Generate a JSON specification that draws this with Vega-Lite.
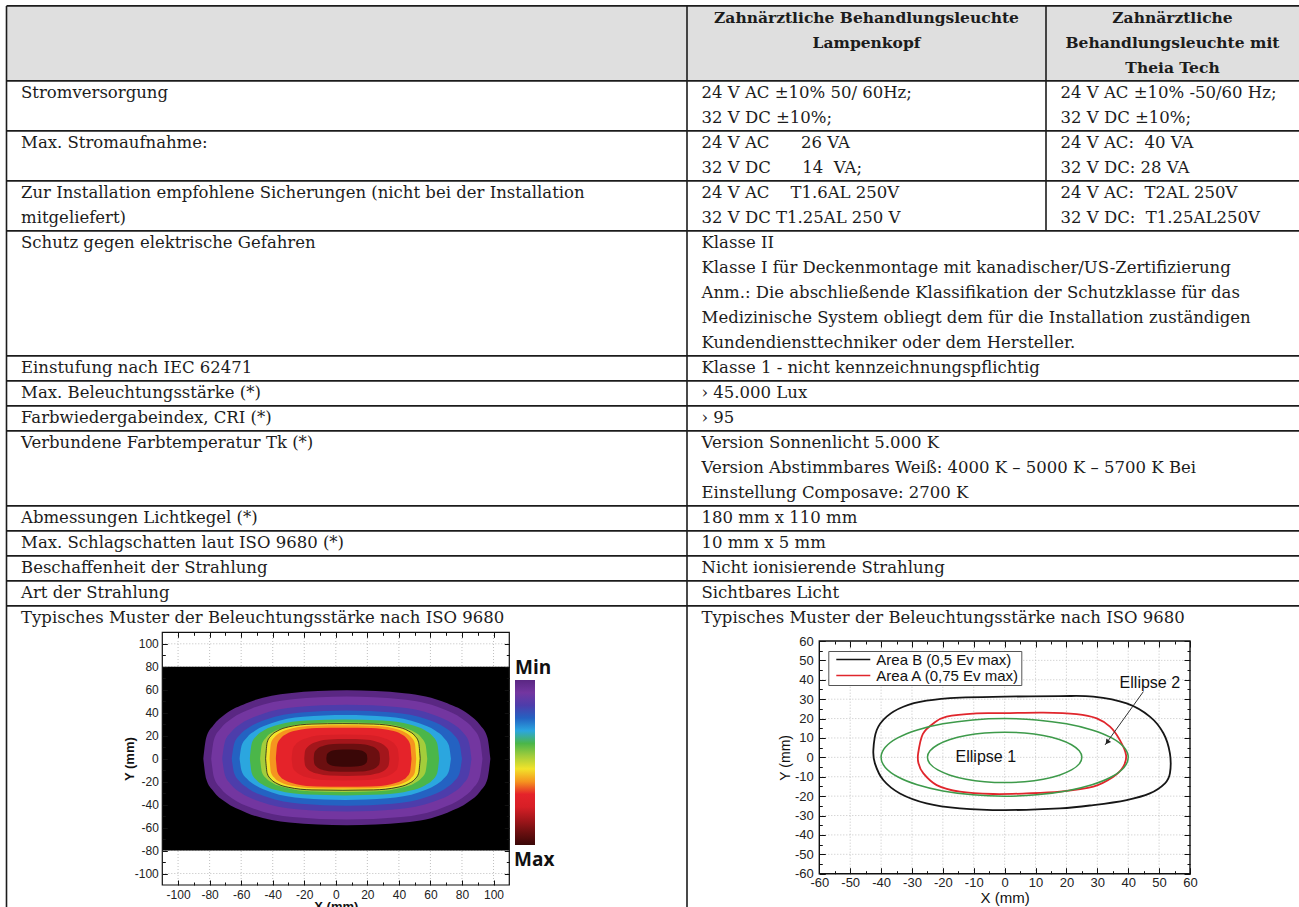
{
"$schema": "https://vega.github.io/schema/vega-lite/v6.json",
"width": 1299, "height": 907,
"autosize": {"type": "none"},
"padding": 0,
"background": "#ffffff",
"config": {"view": {"stroke": null}},
"datasets": {
"one": [{"lab": "Max"}],
"rows": [
{"row":"Kopf","top":-0.5,"bottom":2.5},{"row":"Stromversorgung","top":2.5},{"row":"Max. Stromaufnahme","top":4.5},{"row":"Sicherungen","top":6.5},{"row":"Schutz","top":8.5},{"row":"Einstufung","top":13.5},{"row":"Beleuchtungsstärke","top":14.5},{"row":"CRI","top":15.5},{"row":"Farbtemperatur","top":16.5},{"row":"Lichtkegel","top":19.5},{"row":"Schlagschatten","top":20.5},{"row":"Beschaffenheit","top":21.5},{"row":"Art","top":22.5},{"row":"Muster","top":23.5}
],
"vlines": [{"c":0,"from":-0.5,"to":40},{"c":1,"from":-0.5,"to":40},{"c":2,"from":-0.5,"to":8.5}],
"head": [
{"col":1.5,"slot":0,"text":"Zahnärztliche Behandlungsleuchte"},
{"col":1.5,"slot":1,"text":"Lampenkopf"},
{"col":2.5,"slot":0,"text":"Zahnärztliche"},
{"col":2.5,"slot":1,"text":"Behandlungsleuchte mit"},
{"col":2.5,"slot":2,"text":"Theia Tech"}
],
"cells": [
{"col":0,"slot":3,"text":"Stromversorgung"},
{"col":0,"slot":5,"text":"Max. Stromaufnahme:"},
{"col":0,"slot":7,"text":"Zur Installation empfohlene Sicherungen (nicht bei der Installation"},
{"col":0,"slot":8,"text":"mitgeliefert)"},
{"col":0,"slot":9,"text":"Schutz gegen elektrische Gefahren"},
{"col":0,"slot":14,"text":"Einstufung nach IEC 62471"},
{"col":0,"slot":15,"text":"Max. Beleuchtungsstärke (*)"},
{"col":0,"slot":16,"text":"Farbwiedergabeindex, CRI (*)"},
{"col":0,"slot":17,"text":"Verbundene Farbtemperatur Tk (*)"},
{"col":0,"slot":20,"text":"Abmessungen Lichtkegel (*)"},
{"col":0,"slot":21,"text":"Max. Schlagschatten laut ISO 9680 (*)"},
{"col":0,"slot":22,"text":"Beschaffenheit der Strahlung"},
{"col":0,"slot":23,"text":"Art der Strahlung"},
{"col":0,"slot":24,"text":"Typisches Muster der Beleuchtungsstärke nach ISO 9680"},
{"col":1,"slot":3,"text":"24 V AC ±10% 50/ 60Hz;"},
{"col":1,"slot":4,"text":"32 V DC ±10%;"},
{"col":1,"slot":5,"text":"24 V AC\u00a0\u00a0\u00a0\u00a0\u00a0 26 VA"},
{"col":1,"slot":6,"text":"32 V DC\u00a0\u00a0\u00a0\u00a0\u00a0 14\u00a0 VA;"},
{"col":1,"slot":7,"text":"24 V AC\u00a0\u00a0\u00a0 T1.6AL 250V"},
{"col":1,"slot":8,"text":"32 V DC T1.25AL 250 V"},
{"col":1,"slot":9,"text":"Klasse II"},
{"col":1,"slot":10,"text":"Klasse I für Deckenmontage mit kanadischer/US-Zertifizierung"},
{"col":1,"slot":11,"text":"Anm.: Die abschließende Klassifikation der Schutzklasse für das"},
{"col":1,"slot":12,"text":"Medizinische System obliegt dem für die Installation zuständigen"},
{"col":1,"slot":13,"text":"Kundendiensttechniker oder dem Hersteller."},
{"col":1,"slot":14,"text":"Klasse 1 - nicht kennzeichnungspflichtig"},
{"col":1,"slot":15,"text":"› 45.000 Lux"},
{"col":1,"slot":16,"text":"› 95"},
{"col":1,"slot":17,"text":"Version Sonnenlicht 5.000 K"},
{"col":1,"slot":18,"text":"Version Abstimmbares Weiß: 4000 K – 5000 K – 5700 K Bei"},
{"col":1,"slot":19,"text":"Einstellung Composave: 2700 K"},
{"col":1,"slot":20,"text":"180 mm x 110 mm"},
{"col":1,"slot":21,"text":"10 mm x 5 mm"},
{"col":1,"slot":22,"text":"Nicht ionisierende Strahlung"},
{"col":1,"slot":23,"text":"Sichtbares Licht"},
{"col":1,"slot":24,"text":"Typisches Muster der Beleuchtungsstärke nach ISO 9680"},
{"col":2,"slot":3,"text":"24 V AC ±10% -50/60 Hz;"},
{"col":2,"slot":4,"text":"32 V DC ±10%;"},
{"col":2,"slot":5,"text":"24 V AC:\u00a0 40 VA"},
{"col":2,"slot":6,"text":"32 V DC: 28 VA"},
{"col":2,"slot":7,"text":"24 V AC:\u00a0 T2AL 250V"},
{"col":2,"slot":8,"text":"32 V DC:\u00a0 T1.25AL250V"}
],
"gridL": [{"g":-100},{"g":-80},{"g":-60},{"g":-40},{"g":-20},{"g":0},{"g":20},{"g":40},{"g":60},{"g":80},{"g":100}],
"gridR": [{"g":-50},{"g":-40},{"g":-30},{"g":-20},{"g":-10},{"g":0},{"g":10},{"g":20},{"g":30},{"g":40},{"g":50}],
"heat": [
{"lv":1,"x":-84,"t":0,"b":0},{"lv":1,"x":-82.2,"t":17.9,"b":-17.4},{"lv":1,"x":-77.6,"t":29,"b":-28.3},{"lv":1,"x":-70.4,"t":38.4,"b":-37.4},{"lv":1,"x":-56.7,"t":48.2,"b":-47},{"lv":1,"x":-29.4,"t":57,"b":-55.6},{"lv":1,"x":7,"t":59.5,"b":-58},{"lv":1,"x":43.4,"t":57,"b":-55.6},{"lv":1,"x":70.7,"t":48.2,"b":-47},{"lv":1,"x":84.4,"t":38.4,"b":-37.4},{"lv":1,"x":91.6,"t":29,"b":-28.3},{"lv":1,"x":96.2,"t":17.9,"b":-17.4},{"lv":1,"x":98,"t":0,"b":0},
{"lv":2,"x":-79,"t":0,"b":0},{"lv":2,"x":-77.3,"t":16.2,"b":-15.9},{"lv":2,"x":-73,"t":26.3,"b":-25.8},{"lv":2,"x":-66.1,"t":34.8,"b":-34.2},{"lv":2,"x":-53.2,"t":43.7,"b":-42.9},{"lv":2,"x":-27.4,"t":51.7,"b":-50.8},{"lv":2,"x":7,"t":54,"b":-53},{"lv":2,"x":41.4,"t":51.7,"b":-50.8},{"lv":2,"x":67.2,"t":43.7,"b":-42.9},{"lv":2,"x":80.1,"t":34.8,"b":-34.2},{"lv":2,"x":87,"t":26.3,"b":-25.8},{"lv":2,"x":91.3,"t":16.2,"b":-15.9},{"lv":2,"x":93,"t":0,"b":0},
{"lv":3,"x":-72,"t":0,"b":0},{"lv":3,"x":-70.4,"t":14.1,"b":-13.8},{"lv":3,"x":-66.5,"t":22.9,"b":-22.4},{"lv":3,"x":-60.2,"t":30.3,"b":-29.7},{"lv":3,"x":-48.3,"t":38.1,"b":-37.3},{"lv":3,"x":-24.6,"t":45,"b":-44.1},{"lv":3,"x":7,"t":47,"b":-46},{"lv":3,"x":38.6,"t":45,"b":-44.1},{"lv":3,"x":62.3,"t":38.1,"b":-37.3},{"lv":3,"x":74.2,"t":30.3,"b":-29.7},{"lv":3,"x":80.5,"t":22.9,"b":-22.4},{"lv":3,"x":84.4,"t":14.1,"b":-13.8},{"lv":3,"x":86,"t":0,"b":0},
{"lv":4,"x":-66,"t":0,"b":0},{"lv":4,"x":-64.5,"t":12.6,"b":-12.3},{"lv":4,"x":-60.9,"t":20.5,"b":-20},{"lv":4,"x":-55.1,"t":27.1,"b":-26.4},{"lv":4,"x":-44.1,"t":34,"b":-33.2},{"lv":4,"x":-22.2,"t":40.2,"b":-39.3},{"lv":4,"x":7,"t":42,"b":-41},{"lv":4,"x":36.2,"t":40.2,"b":-39.3},{"lv":4,"x":58.1,"t":34,"b":-33.2},{"lv":4,"x":69.1,"t":27.1,"b":-26.4},{"lv":4,"x":74.9,"t":20.5,"b":-20},{"lv":4,"x":78.5,"t":12.6,"b":-12.3},{"lv":4,"x":80,"t":0,"b":0},
{"lv":5,"x":-61,"t":0,"b":0},{"lv":5,"x":-59.7,"t":11.4,"b":-10.8},{"lv":5,"x":-56.3,"t":18.5,"b":-17.6},{"lv":5,"x":-51,"t":24.5,"b":-23.2},{"lv":5,"x":-40.9,"t":30.8,"b":-29.2},{"lv":5,"x":-20.8,"t":36.4,"b":-34.5},{"lv":5,"x":6,"t":38,"b":-36},{"lv":5,"x":32.8,"t":36.4,"b":-34.5},{"lv":5,"x":52.9,"t":30.8,"b":-29.2},{"lv":5,"x":63,"t":24.5,"b":-23.2},{"lv":5,"x":68.3,"t":18.5,"b":-17.6},{"lv":5,"x":71.7,"t":11.4,"b":-10.8},{"lv":5,"x":73,"t":0,"b":0},
{"lv":6,"x":-54.5,"t":0,"b":0},{"lv":6,"x":-53.3,"t":13.2,"b":-12.4},{"lv":6,"x":-50.3,"t":19.7,"b":-18.6},{"lv":6,"x":-45.5,"t":24.8,"b":-23.3},{"lv":6,"x":-36.5,"t":29.6,"b":-27.8},{"lv":6,"x":-18.5,"t":33.3,"b":-31.3},{"lv":6,"x":5.5,"t":34,"b":-32},{"lv":6,"x":29.5,"t":33.3,"b":-31.3},{"lv":6,"x":47.5,"t":29.6,"b":-27.8},{"lv":6,"x":56.5,"t":24.8,"b":-23.3},{"lv":6,"x":61.3,"t":19.7,"b":-18.6},{"lv":6,"x":64.3,"t":13.2,"b":-12.4},{"lv":6,"x":65.5,"t":0,"b":0},
{"lv":7,"x":-48,"t":0,"b":0},{"lv":7,"x":-46.9,"t":12.3,"b":-11.3},{"lv":7,"x":-44.3,"t":18.3,"b":-16.8},{"lv":7,"x":-40.1,"t":22.9,"b":-21.1},{"lv":7,"x":-32.1,"t":27.4,"b":-25.2},{"lv":7,"x":-16.2,"t":30.8,"b":-28.4},{"lv":7,"x":5,"t":31.5,"b":-29},{"lv":7,"x":26.2,"t":30.8,"b":-28.4},{"lv":7,"x":42.1,"t":27.4,"b":-25.2},{"lv":7,"x":50.1,"t":22.9,"b":-21.1},{"lv":7,"x":54.3,"t":18.3,"b":-16.8},{"lv":7,"x":56.9,"t":12.3,"b":-11.3},{"lv":7,"x":58,"t":0,"b":0},
{"lv":8,"x":-44.5,"t":0,"b":0},{"lv":8,"x":-43.5,"t":14.2,"b":-12.8},{"lv":8,"x":-41.1,"t":19.9,"b":-17.9},{"lv":8,"x":-37.2,"t":24,"b":-21.7},{"lv":8,"x":-29.8,"t":27.7,"b":-25},{"lv":8,"x":-15.1,"t":30.1,"b":-27.2},{"lv":8,"x":4.5,"t":30.5,"b":-27.5},{"lv":8,"x":24.1,"t":30.1,"b":-27.2},{"lv":8,"x":38.8,"t":27.7,"b":-25},{"lv":8,"x":46.2,"t":24,"b":-21.7},{"lv":8,"x":50.1,"t":19.9,"b":-17.9},{"lv":8,"x":52.5,"t":14.2,"b":-12.8},{"lv":8,"x":53.5,"t":0,"b":0},
{"lv":9,"x":-42,"t":0,"b":0},{"lv":9,"x":-41.1,"t":13.5,"b":-12.1},{"lv":9,"x":-38.7,"t":18.9,"b":-17},{"lv":9,"x":-35,"t":22.8,"b":-20.5},{"lv":9,"x":-28.1,"t":26.3,"b":-23.6},{"lv":9,"x":-14.1,"t":28.7,"b":-25.7},{"lv":9,"x":4.5,"t":29,"b":-26},{"lv":9,"x":23.1,"t":28.7,"b":-25.7},{"lv":9,"x":37.1,"t":26.3,"b":-23.6},{"lv":9,"x":44,"t":22.8,"b":-20.5},{"lv":9,"x":47.7,"t":18.9,"b":-17},{"lv":9,"x":50.1,"t":13.5,"b":-12.1},{"lv":9,"x":51,"t":0,"b":0},
{"lv":10,"x":-38,"t":0,"b":0},{"lv":10,"x":-37.1,"t":12.5,"b":-11.4},{"lv":10,"x":-35,"t":17.6,"b":-16},{"lv":10,"x":-31.6,"t":21.3,"b":-19.3},{"lv":10,"x":-25.1,"t":24.5,"b":-22.2},{"lv":10,"x":-12.2,"t":26.7,"b":-24.2},{"lv":10,"x":5,"t":27,"b":-24.5},{"lv":10,"x":22.2,"t":26.7,"b":-24.2},{"lv":10,"x":35.1,"t":24.5,"b":-22.2},{"lv":10,"x":41.6,"t":21.3,"b":-19.3},{"lv":10,"x":45,"t":17.6,"b":-16},{"lv":10,"x":47.1,"t":12.5,"b":-11.4},{"lv":10,"x":48,"t":0,"b":0},
{"lv":11,"x":-28,"t":0,"b":0},{"lv":11,"x":-27.3,"t":8.2,"b":-7.4},{"lv":11,"x":-25.6,"t":12.2,"b":-11},{"lv":11,"x":-22.9,"t":15.3,"b":-13.8},{"lv":11,"x":-17.8,"t":18.3,"b":-16.5},{"lv":11,"x":-7.6,"t":20.5,"b":-18.6},{"lv":11,"x":6,"t":21,"b":-19},{"lv":11,"x":19.6,"t":20.5,"b":-18.6},{"lv":11,"x":29.8,"t":18.3,"b":-16.5},{"lv":11,"x":34.9,"t":15.3,"b":-13.8},{"lv":11,"x":37.6,"t":12.2,"b":-11},{"lv":11,"x":39.3,"t":8.2,"b":-7.4},{"lv":11,"x":40,"t":0,"b":0},
{"lv":12,"x":-20,"t":0,"b":0},{"lv":12,"x":-19.5,"t":6.6,"b":-5.8},{"lv":12,"x":-18.1,"t":9.9,"b":-8.7},{"lv":12,"x":-16,"t":12.4,"b":-10.9},{"lv":12,"x":-11.9,"t":14.8,"b":-13},{"lv":12,"x":-3.8,"t":16.6,"b":-14.7},{"lv":12,"x":7,"t":17,"b":-15},{"lv":12,"x":17.8,"t":16.6,"b":-14.7},{"lv":12,"x":25.9,"t":14.8,"b":-13},{"lv":12,"x":30,"t":12.4,"b":-10.9},{"lv":12,"x":32.1,"t":9.9,"b":-8.7},{"lv":12,"x":33.5,"t":6.6,"b":-5.8},{"lv":12,"x":34,"t":0,"b":0},
{"lv":13,"x":-14,"t":0,"b":0},{"lv":13,"x":-13.6,"t":5.1,"b":-4.5},{"lv":13,"x":-12.5,"t":7.5,"b":-6.7},{"lv":13,"x":-10.9,"t":9.5,"b":-8.4},{"lv":13,"x":-7.7,"t":11.3,"b":-10},{"lv":13,"x":-1.4,"t":12.7,"b":-11.2},{"lv":13,"x":7,"t":13,"b":-11.5},{"lv":13,"x":15.4,"t":12.7,"b":-11.2},{"lv":13,"x":21.7,"t":11.3,"b":-10},{"lv":13,"x":24.9,"t":9.5,"b":-8.4},{"lv":13,"x":26.5,"t":7.5,"b":-6.7},{"lv":13,"x":27.6,"t":5.1,"b":-4.5},{"lv":13,"x":28,"t":0,"b":0},
{"lv":14,"x":-6,"t":0,"b":0},{"lv":14,"x":-5.7,"t":3.1,"b":-2.7},{"lv":14,"x":-5.1,"t":4.6,"b":-4.1},{"lv":14,"x":-4.1,"t":5.8,"b":-5.1},{"lv":14,"x":-2.1,"t":7,"b":-6.1},{"lv":14,"x":1.8,"t":7.8,"b":-6.8},{"lv":14,"x":7,"t":8,"b":-7},{"lv":14,"x":12.2,"t":7.8,"b":-6.8},{"lv":14,"x":16.1,"t":7,"b":-6.1},{"lv":14,"x":18.1,"t":5.8,"b":-5.1},{"lv":14,"x":19.1,"t":4.6,"b":-4.1},{"lv":14,"x":19.7,"t":3.1,"b":-2.7},{"lv":14,"x":20,"t":0,"b":0}
],
"curves": [
{"s":"Area B (0,5 Ev max)","i":0,"x":-42.5,"y":3.8},{"s":"Area B (0,5 Ev max)","i":1,"x":-41.4,"y":14.1},{"s":"Area B (0,5 Ev max)","i":2,"x":-38.2,"y":21},{"s":"Area B (0,5 Ev max)","i":3,"x":-32.8,"y":26.1},{"s":"Area B (0,5 Ev max)","i":4,"x":-25.3,"y":29.2},{"s":"Area B (0,5 Ev max)","i":5,"x":-14.5,"y":30.8},{"s":"Area B (0,5 Ev max)","i":6,"x":0,"y":31.3},{"s":"Area B (0,5 Ev max)","i":7,"x":17.9,"y":31.6},{"s":"Area B (0,5 Ev max)","i":8,"x":28.7,"y":31.3},{"s":"Area B (0,5 Ev max)","i":9,"x":39.5,"y":27.8},{"s":"Area B (0,5 Ev max)","i":10,"x":47,"y":21},{"s":"Area B (0,5 Ev max)","i":11,"x":51.4,"y":12.4},{"s":"Area B (0,5 Ev max)","i":12,"x":53.5,"y":2},{"s":"Area B (0,5 Ev max)","i":13,"x":53.5,"y":-8.3},{"s":"Area B (0,5 Ev max)","i":14,"x":51.9,"y":-13.4},{"s":"Area B (0,5 Ev max)","i":15,"x":47,"y":-18.6},{"s":"Area B (0,5 Ev max)","i":16,"x":39.5,"y":-22},{"s":"Area B (0,5 Ev max)","i":17,"x":28.7,"y":-24.6},{"s":"Area B (0,5 Ev max)","i":18,"x":17.9,"y":-26.3},{"s":"Area B (0,5 Ev max)","i":19,"x":0,"y":-27.2},{"s":"Area B (0,5 Ev max)","i":20,"x":-14.5,"y":-26.3},{"s":"Area B (0,5 Ev max)","i":21,"x":-25.3,"y":-23.7},{"s":"Area B (0,5 Ev max)","i":22,"x":-33.9,"y":-18.6},{"s":"Area B (0,5 Ev max)","i":23,"x":-39.3,"y":-11.7},{"s":"Area B (0,5 Ev max)","i":24,"x":-42,"y":-3.1},
{"s":"Area A (0,75 Ev max)","i":0,"x":-28,"y":2},{"s":"Area A (0,75 Ev max)","i":1,"x":-26.5,"y":12},{"s":"Area A (0,75 Ev max)","i":2,"x":-23.1,"y":17.5},{"s":"Area A (0,75 Ev max)","i":3,"x":-18.8,"y":21},{"s":"Area A (0,75 Ev max)","i":4,"x":-9.1,"y":22.7},{"s":"Area A (0,75 Ev max)","i":5,"x":0,"y":22.8},{"s":"Area A (0,75 Ev max)","i":6,"x":12.5,"y":23.1},{"s":"Area A (0,75 Ev max)","i":7,"x":23.3,"y":22.3},{"s":"Area A (0,75 Ev max)","i":8,"x":29.8,"y":20.1},{"s":"Area A (0,75 Ev max)","i":9,"x":34.1,"y":15.8},{"s":"Area A (0,75 Ev max)","i":10,"x":37.3,"y":8.9},{"s":"Area A (0,75 Ev max)","i":11,"x":39.3,"y":1.2},{"s":"Area A (0,75 Ev max)","i":12,"x":38.4,"y":-4.8},{"s":"Area A (0,75 Ev max)","i":13,"x":35.2,"y":-10},{"s":"Area A (0,75 Ev max)","i":14,"x":28.7,"y":-15.1},{"s":"Area A (0,75 Ev max)","i":15,"x":17.9,"y":-17.7},{"s":"Area A (0,75 Ev max)","i":16,"x":7.1,"y":-18.6},{"s":"Area A (0,75 Ev max)","i":17,"x":-3.7,"y":-18.9},{"s":"Area A (0,75 Ev max)","i":18,"x":-14.5,"y":-17.7},{"s":"Area A (0,75 Ev max)","i":19,"x":-22,"y":-14.3},{"s":"Area A (0,75 Ev max)","i":20,"x":-26.3,"y":-8.3},{"s":"Area A (0,75 Ev max)","i":21,"x":-27.9,"y":-3}
],
"ellipses": [
{"e":"Ellipse 2","i":0,"x":40,"y":0},{"e":"Ellipse 2","i":1,"x":38.64,"y":5.18},{"e":"Ellipse 2","i":2,"x":34.64,"y":10},{"e":"Ellipse 2","i":3,"x":28.28,"y":14.14},{"e":"Ellipse 2","i":4,"x":20,"y":17.32},{"e":"Ellipse 2","i":5,"x":10.35,"y":19.32},{"e":"Ellipse 2","i":6,"x":0,"y":20},{"e":"Ellipse 2","i":7,"x":-10.35,"y":19.32},{"e":"Ellipse 2","i":8,"x":-20,"y":17.32},{"e":"Ellipse 2","i":9,"x":-28.28,"y":14.14},{"e":"Ellipse 2","i":10,"x":-34.64,"y":10},{"e":"Ellipse 2","i":11,"x":-38.64,"y":5.18},{"e":"Ellipse 2","i":12,"x":-40,"y":0},{"e":"Ellipse 2","i":13,"x":-38.64,"y":-5.18},{"e":"Ellipse 2","i":14,"x":-34.64,"y":-10},{"e":"Ellipse 2","i":15,"x":-28.28,"y":-14.14},{"e":"Ellipse 2","i":16,"x":-20,"y":-17.32},{"e":"Ellipse 2","i":17,"x":-10.35,"y":-19.32},{"e":"Ellipse 2","i":18,"x":0,"y":-20},{"e":"Ellipse 2","i":19,"x":10.35,"y":-19.32},{"e":"Ellipse 2","i":20,"x":20,"y":-17.32},{"e":"Ellipse 2","i":21,"x":28.28,"y":-14.14},{"e":"Ellipse 2","i":22,"x":34.64,"y":-10},{"e":"Ellipse 2","i":23,"x":38.64,"y":-5.18},
{"e":"Ellipse 1","i":0,"x":25,"y":0},{"e":"Ellipse 1","i":1,"x":24.15,"y":3.36},{"e":"Ellipse 1","i":2,"x":21.65,"y":6.5},{"e":"Ellipse 1","i":3,"x":17.68,"y":9.19},{"e":"Ellipse 1","i":4,"x":12.5,"y":11.26},{"e":"Ellipse 1","i":5,"x":6.47,"y":12.56},{"e":"Ellipse 1","i":6,"x":0,"y":13},{"e":"Ellipse 1","i":7,"x":-6.47,"y":12.56},{"e":"Ellipse 1","i":8,"x":-12.5,"y":11.26},{"e":"Ellipse 1","i":9,"x":-17.68,"y":9.19},{"e":"Ellipse 1","i":10,"x":-21.65,"y":6.5},{"e":"Ellipse 1","i":11,"x":-24.15,"y":3.36},{"e":"Ellipse 1","i":12,"x":-25,"y":0},{"e":"Ellipse 1","i":13,"x":-24.15,"y":-3.36},{"e":"Ellipse 1","i":14,"x":-21.65,"y":-6.5},{"e":"Ellipse 1","i":15,"x":-17.68,"y":-9.19},{"e":"Ellipse 1","i":16,"x":-12.5,"y":-11.26},{"e":"Ellipse 1","i":17,"x":-6.47,"y":-12.56},{"e":"Ellipse 1","i":18,"x":0,"y":-13},{"e":"Ellipse 1","i":19,"x":6.47,"y":-12.56},{"e":"Ellipse 1","i":20,"x":12.5,"y":-11.26},{"e":"Ellipse 1","i":21,"x":17.68,"y":-9.19},{"e":"Ellipse 1","i":22,"x":21.65,"y":-6.5},{"e":"Ellipse 1","i":23,"x":24.15,"y":-3.36}
],
"labelsR": [{"t":"Ellipse 1","x":-6.1,"y":0},{"t":"Ellipse 2","x":47,"y":38.2}],
"arrow": [{"x":44.9,"y":33.9,"x2":32.5,"y2":6.4}],
"arrowHead": [{"x":33.2,"y":7.8}]
},
"layer": [
{
"layer": [
{"data":{"name":"rows"},"transform":[{"filter":"datum.row === 'Kopf'"}],"mark":{"type":"rect","fill":"#dfdfdf"},
 "encoding":{"x":{"datum":0,"type":"quantitative","scale":{"domain":[0,1,2,3],"range":[6.5,687,1046,1299],"zero":false,"nice":false},"axis":null},"x2":{"datum":3},
 "y":{"field":"top","type":"quantitative","scale":{"domain":[0,25],"range":[18.4,643.4],"zero":false,"nice":false},"axis":null},"y2":{"field":"bottom"}}},
{"data":{"name":"rows"},"mark":{"type":"rule","stroke":"#1c1c1c","strokeWidth":1.6},
 "encoding":{"x":{"datum":0,"type":"quantitative","scale":{"domain":[0,1,2,3],"range":[6.5,687,1046,1299],"zero":false,"nice":false},"axis":null},"x2":{"datum":3},
 "y":{"field":"top","type":"quantitative","scale":{"domain":[0,25],"range":[18.4,643.4],"zero":false,"nice":false},"axis":null}}},
{"data":{"name":"vlines"},"mark":{"type":"rule","stroke":"#1c1c1c","strokeWidth":1.6},
 "encoding":{"x":{"field":"c","type":"quantitative","scale":{"domain":[0,1,2,3],"range":[6.5,687,1046,1299],"zero":false,"nice":false},"axis":null},
 "y":{"field":"from","type":"quantitative","scale":{"domain":[0,25],"range":[18.4,643.4],"zero":false,"nice":false},"axis":null},"y2":{"field":"to"}}},
{"data":{"name":"cells"},"mark":{"type":"text","align":"left","baseline":"middle","dx":14.5,"font":"DejaVu Serif","fontSize":16.5,"fill":"#1c1c1c"},
 "encoding":{"x":{"field":"col","type":"quantitative","scale":{"domain":[0,1,2,3],"range":[6.5,687,1046,1299],"zero":false,"nice":false},"axis":null},
 "y":{"field":"slot","type":"quantitative","scale":{"domain":[0,25],"range":[18.4,643.4],"zero":false,"nice":false},"axis":null},"text":{"field":"text","type":"nominal"}}},
{"data":{"name":"head"},"mark":{"type":"text","align":"center","baseline":"middle","font":"DejaVu Serif","fontSize":15.5,"fontWeight":"bold","fill":"#1c1c1c"},
 "encoding":{"x":{"field":"col","type":"quantitative","scale":{"domain":[0,1,2,3],"range":[6.5,687,1046,1299],"zero":false,"nice":false},"axis":null},
 "y":{"field":"slot","type":"quantitative","scale":{"domain":[0,25],"range":[18.4,643.4],"zero":false,"nice":false},"axis":null},"text":{"field":"text","type":"nominal"}}}
]
},
{
"layer": [
{"data":{"name":"gridL"},"mark":{"type":"rule","stroke":"#b0b0b0","strokeWidth":0.8,"strokeDash":[1,2]},
 "encoding":{"x":{"field":"g","type":"quantitative","scale":{"domain":[-110,110],"range":[162.3,509.3],"zero":false,"nice":false},
   "axis":{"orient":"bottom","offset":-22,"values":[-90,-70,-50,-30,-10,10,30,50,70,90],"domain":false,"grid":false,"labels":false,"tickSize":-3,"tickColor":"#111","title":null,"zindex":3}},
 "y":{"datum":-110,"type":"quantitative","scale":{"domain":[-110,110],"range":[885,632.3],"zero":false,"nice":false},
   "axis":{"orient":"left","offset":-162.3,"values":[-90,-70,-50,-30,-10,10,30,50,70,90],"domain":false,"grid":false,"labels":false,"tickSize":-3,"tickColor":"#111","title":null,"zindex":3}},
 "y2":{"datum":110}}},
{"data":{"name":"gridL"},"mark":{"type":"rule","stroke":"#b0b0b0","strokeWidth":0.8,"strokeDash":[1,2]},
 "encoding":{"y":{"field":"g","type":"quantitative","scale":{"domain":[-110,110],"range":[885,632.3],"zero":false,"nice":false},
   "axis":{"orient":"right","offset":-789.7,"values":[-90,-70,-50,-30,-10,10,30,50,70,90],"domain":false,"grid":false,"labels":false,"tickSize":-3,"tickColor":"#111","title":null,"zindex":3}},
 "x":{"datum":-110,"type":"quantitative","scale":{"domain":[-110,110],"range":[162.3,509.3],"zero":false,"nice":false},
   "axis":{"orient":"top","offset":-632.3,"values":[-90,-70,-50,-30,-10,10,30,50,70,90],"domain":false,"grid":false,"labels":false,"tickSize":-3,"tickColor":"#111","title":null,"zindex":3}},
 "x2":{"datum":110}}},
{"data":{"name":"one"},"mark":{"type":"rect","fill":"#000000"},
 "encoding":{"x":{"datum":-110,"type":"quantitative","scale":{"domain":[-110,110],"range":[162.3,509.3],"zero":false,"nice":false},
   "axis":{"orient":"bottom","offset":-22,"values":[-100,-80,-60,-40,-20,0,20,40,60,80,100],"domain":false,"grid":false,"tickSize":-5,"tickColor":"#111","labelPadding":9,"labelFont":"Liberation Sans","labelFontSize":12,"labelColor":"#222","labelFlush":false,"labelOverlap":false,"labelExpr":"'' + datum.value","title":"X (mm)","titleFont":"Liberation Sans","titleFontSize":13,"titleFontWeight":"bold","titleColor":"#111","titlePadding":0,"zindex":3}},
 "x2":{"datum":110},
 "y":{"datum":-80,"type":"quantitative","scale":{"domain":[-110,110],"range":[885,632.3],"zero":false,"nice":false},
   "axis":{"orient":"left","offset":-162.3,"values":[-100,-80,-60,-40,-20,0,20,40,60,80,100],"domain":false,"grid":false,"tickSize":-5,"tickColor":"#111","labelPadding":9,"labelFont":"Liberation Sans","labelFontSize":12,"labelColor":"#222","labelFlush":false,"labelOverlap":false,"labelExpr":"'' + datum.value","title":"Y (mm)","titleFont":"Liberation Sans","titleFontSize":13,"titleFontWeight":"bold","titleColor":"#111","titlePadding":-2,"zindex":3}},
 "y2":{"datum":80}}},
{"data":{"name":"heat"},"mark":{"type":"area","interpolate":"monotone"},
 "encoding":{"x":{"field":"x","type":"quantitative","scale":{"domain":[-110,110],"range":[162.3,509.3],"zero":false,"nice":false},"axis":null},
 "y":{"field":"t","type":"quantitative","scale":{"domain":[-110,110],"range":[885,632.3],"zero":false,"nice":false},"axis":null},"y2":{"field":"b"},
 "detail":{"field":"lv","type":"ordinal"},
 "color":{"field":"lv","type":"quantitative","scale":{"domain":[14,13,12,11,10,9,8,7,6,5,4,3,2,1],"range":["#3a0707","#6b0f10","#a3161b","#d71f26","#e5232a","#f5951f","#f2e32a","#a3cd3b","#4bb649","#2ba6df","#2462c2","#4d3dab","#7336a0","#5a2783"]},
  "legend":{"orient":"none","legendX":515,"legendY":659,"direction":"vertical","title":"Min","titleFont":"Open Sans","titleFontSize":19,"titleFontWeight":"bold","titleColor":"#111","titlePadding":2,"gradientLength":165,"gradientThickness":20,"gradientStrokeWidth":0,"labelExpr":"''","labelFontSize":1,"labelOpacity":0,"padding":0}}}},
{"data":{"name":"heat"},"transform":[{"filter":"datum.lv === 8"}],"mark":{"type":"area","interpolate":"monotone","fill":"transparent","stroke":"#1a1a1a","strokeWidth":0.8},
 "encoding":{"x":{"field":"x","type":"quantitative","scale":{"domain":[-110,110],"range":[162.3,509.3],"zero":false,"nice":false},"axis":null},
 "y":{"field":"t","type":"quantitative","scale":{"domain":[-110,110],"range":[885,632.3],"zero":false,"nice":false},"axis":null},"y2":{"field":"b"}}},
{"data":{"name":"one"},"mark":{"type":"rect","fill":"transparent","stroke":"#111","strokeWidth":1.2},
 "encoding":{"x":{"datum":-110,"type":"quantitative","scale":{"domain":[-110,110],"range":[162.3,509.3],"zero":false,"nice":false},
   "axis":{"orient":"top","offset":-632.3,"values":[-100,-80,-60,-40,-20,0,20,40,60,80,100],"domain":false,"grid":false,"labels":false,"tickSize":-5,"tickColor":"#111","title":null,"zindex":3}},
 "x2":{"datum":110},
 "y":{"datum":-110,"type":"quantitative","scale":{"domain":[-110,110],"range":[885,632.3],"zero":false,"nice":false},
   "axis":{"orient":"right","offset":-789.7,"values":[-100,-80,-60,-40,-20,0,20,40,60,80,100],"domain":false,"grid":false,"labels":false,"tickSize":-5,"tickColor":"#111","title":null,"zindex":3}},
 "y2":{"datum":110}}},
{"data":{"name":"one"},"mark":{"type":"text","align":"left","baseline":"middle","font":"Open Sans","fontSize":19,"fontWeight":"bold","fill":"#111"},
 "encoding":{"x":{"datum":113,"type":"quantitative","scale":{"domain":[-110,110],"range":[162.3,509.3],"zero":false,"nice":false},"axis":null},
 "y":{"datum":-88,"type":"quantitative","scale":{"domain":[-110,110],"range":[885,632.3],"zero":false,"nice":false},"axis":null},
 "text":{"field":"lab","type":"nominal"}}}
],
"resolve": {"axis": {"x": "independent", "y": "independent"}}
},
{
"layer": [
{"data":{"name":"gridR"},"mark":{"type":"rule","stroke":"#b5b5b5","strokeWidth":0.8,"strokeDash":[1,2]},
 "encoding":{"x":{"field":"g","type":"quantitative","scale":{"domain":[-60,60],"range":[819.3,1190],"zero":false,"nice":false},
   "axis":{"orient":"bottom","offset":-33.3,"values":[-55,-45,-35,-25,-15,-5,5,15,25,35,45,55],"domain":false,"grid":false,"labels":false,"tickSize":-3,"tickColor":"#111","title":null,"zindex":3}},
 "y":{"datum":-60,"type":"quantitative","scale":{"domain":[-60,60],"range":[873.7,641],"zero":false,"nice":false},
   "axis":{"orient":"left","offset":-819.3,"values":[-55,-45,-35,-25,-15,-5,5,15,25,35,45,55],"domain":false,"grid":false,"labels":false,"tickSize":-3,"tickColor":"#111","title":null,"zindex":3}},
 "y2":{"datum":60}}},
{"data":{"name":"gridR"},"mark":{"type":"rule","stroke":"#b5b5b5","strokeWidth":0.8,"strokeDash":[1,2]},
 "encoding":{"y":{"field":"g","type":"quantitative","scale":{"domain":[-60,60],"range":[873.7,641],"zero":false,"nice":false},
   "axis":{"orient":"right","offset":-109,"values":[-55,-45,-35,-25,-15,-5,5,15,25,35,45,55],"domain":false,"grid":false,"labels":false,"tickSize":-3,"tickColor":"#111","title":null,"zindex":3}},
 "x":{"datum":-60,"type":"quantitative","scale":{"domain":[-60,60],"range":[819.3,1190],"zero":false,"nice":false},
   "axis":{"orient":"top","offset":-641,"values":[-55,-45,-35,-25,-15,-5,5,15,25,35,45,55],"domain":false,"grid":false,"labels":false,"tickSize":-3,"tickColor":"#111","title":null,"zindex":3}},
 "x2":{"datum":60}}},
{"data":{"name":"one"},"mark":{"type":"rect","fill":"transparent","stroke":"#111","strokeWidth":1.4},
 "encoding":{"x":{"datum":-60,"type":"quantitative","scale":{"domain":[-60,60],"range":[819.3,1190],"zero":false,"nice":false},
   "axis":{"orient":"bottom","offset":-33.3,"values":[-60,-50,-40,-30,-20,-10,0,10,20,30,40,50,60],"domain":false,"grid":false,"tickSize":-6,"tickColor":"#111","labelPadding":9,"labelFont":"Liberation Sans","labelFontSize":13,"labelColor":"#222","labelFlush":false,"labelOverlap":false,"labelExpr":"'' + datum.value","title":"X (mm)","titleFont":"Liberation Sans","titleFontSize":15,"titleFontWeight":"normal","titleColor":"#111","titlePadding":1,"zindex":3}},
 "x2":{"datum":60},
 "y":{"datum":-60,"type":"quantitative","scale":{"domain":[-60,60],"range":[873.7,641],"zero":false,"nice":false},
   "axis":{"orient":"left","offset":-819.3,"values":[-60,-50,-40,-30,-20,-10,0,10,20,30,40,50,60],"domain":false,"grid":false,"tickSize":-6,"tickColor":"#111","labelPadding":12,"labelFont":"Liberation Sans","labelFontSize":13,"labelColor":"#222","labelFlush":false,"labelOverlap":false,"labelExpr":"'' + datum.value","title":"Y (mm)","titleFont":"Liberation Sans","titleFontSize":14,"titleFontWeight":"normal","titleColor":"#111","titlePadding":2,"zindex":3}},
 "y2":{"datum":60}}},
{"data":{"name":"curves"},"mark":{"type":"line","interpolate":"cardinal-closed","strokeWidth":1.8},
 "encoding":{"x":{"field":"x","type":"quantitative","scale":{"domain":[-60,60],"range":[819.3,1190],"zero":false,"nice":false},"axis":null},
 "y":{"field":"y","type":"quantitative","scale":{"domain":[-60,60],"range":[873.7,641],"zero":false,"nice":false},"axis":null},
 "order":{"field":"i","type":"quantitative"},
 "color":{"field":"s","type":"nominal","scale":{"domain":["Area B (0,5 Ev max)","Area A (0,75 Ev max)"],"range":["#161616","#e0262c"]},
  "legend":{"orient":"none","legendX":828.3,"legendY":651,"title":null,"symbolType":"stroke","symbolSize":1156,"symbolStrokeWidth":1.6,"clipHeight":15,"padding":1,"rowPadding":0,"symbolOffset":6,"labelOffset":5,"labelFont":"Liberation Sans","labelFontSize":15,"labelColor":"#111","labelLimit":300,"strokeColor":"#555","fillColor":"#ffffff"}}}},
{"data":{"name":"ellipses"},"mark":{"type":"line","interpolate":"cardinal-closed","strokeWidth":1.5,"stroke":"#3d9a4a"},
 "encoding":{"x":{"field":"x","type":"quantitative","scale":{"domain":[-60,60],"range":[819.3,1190],"zero":false,"nice":false},
   "axis":{"orient":"top","offset":-641,"values":[-60,-50,-40,-30,-20,-10,0,10,20,30,40,50,60],"domain":false,"grid":false,"labels":false,"tickSize":-6,"tickColor":"#111","title":null,"zindex":3}},
 "y":{"field":"y","type":"quantitative","scale":{"domain":[-60,60],"range":[873.7,641],"zero":false,"nice":false},
   "axis":{"orient":"right","offset":-109,"values":[-60,-50,-40,-30,-20,-10,0,10,20,30,40,50,60],"domain":false,"grid":false,"labels":false,"tickSize":-6,"tickColor":"#111","title":null,"zindex":3}},
 "order":{"field":"i","type":"quantitative"},
 "detail":{"field":"e","type":"nominal"}}},
{"data":{"name":"arrow"},"mark":{"type":"rule","stroke":"#333","strokeWidth":1},
 "encoding":{"x":{"field":"x","type":"quantitative","scale":{"domain":[-60,60],"range":[819.3,1190],"zero":false,"nice":false},"axis":null},
 "y":{"field":"y","type":"quantitative","scale":{"domain":[-60,60],"range":[873.7,641],"zero":false,"nice":false},"axis":null},
 "x2":{"field":"x2"},"y2":{"field":"y2"}}},
{"data":{"name":"arrowHead"},"mark":{"type":"point","shape":"triangle-up","angle":216,"size":35,"filled":true,"fill":"#222","opacity":1},
 "encoding":{"x":{"field":"x","type":"quantitative","scale":{"domain":[-60,60],"range":[819.3,1190],"zero":false,"nice":false},"axis":null},
 "y":{"field":"y","type":"quantitative","scale":{"domain":[-60,60],"range":[873.7,641],"zero":false,"nice":false},"axis":null}}},
{"data":{"name":"labelsR"},"mark":{"type":"text","align":"center","baseline":"middle","font":"Liberation Sans","fontSize":16,"fill":"#111"},
 "encoding":{"x":{"field":"x","type":"quantitative","scale":{"domain":[-60,60],"range":[819.3,1190],"zero":false,"nice":false},"axis":null},
 "y":{"field":"y","type":"quantitative","scale":{"domain":[-60,60],"range":[873.7,641],"zero":false,"nice":false},"axis":null},
 "text":{"field":"t","type":"nominal"}}}
],
"resolve": {"axis": {"x": "independent", "y": "independent"}}
}
],
"resolve": {"scale": {"x": "independent", "y": "independent", "color": "independent"}, "axis": {"x": "independent", "y": "independent"}, "legend": {"color": "independent"}}
}
